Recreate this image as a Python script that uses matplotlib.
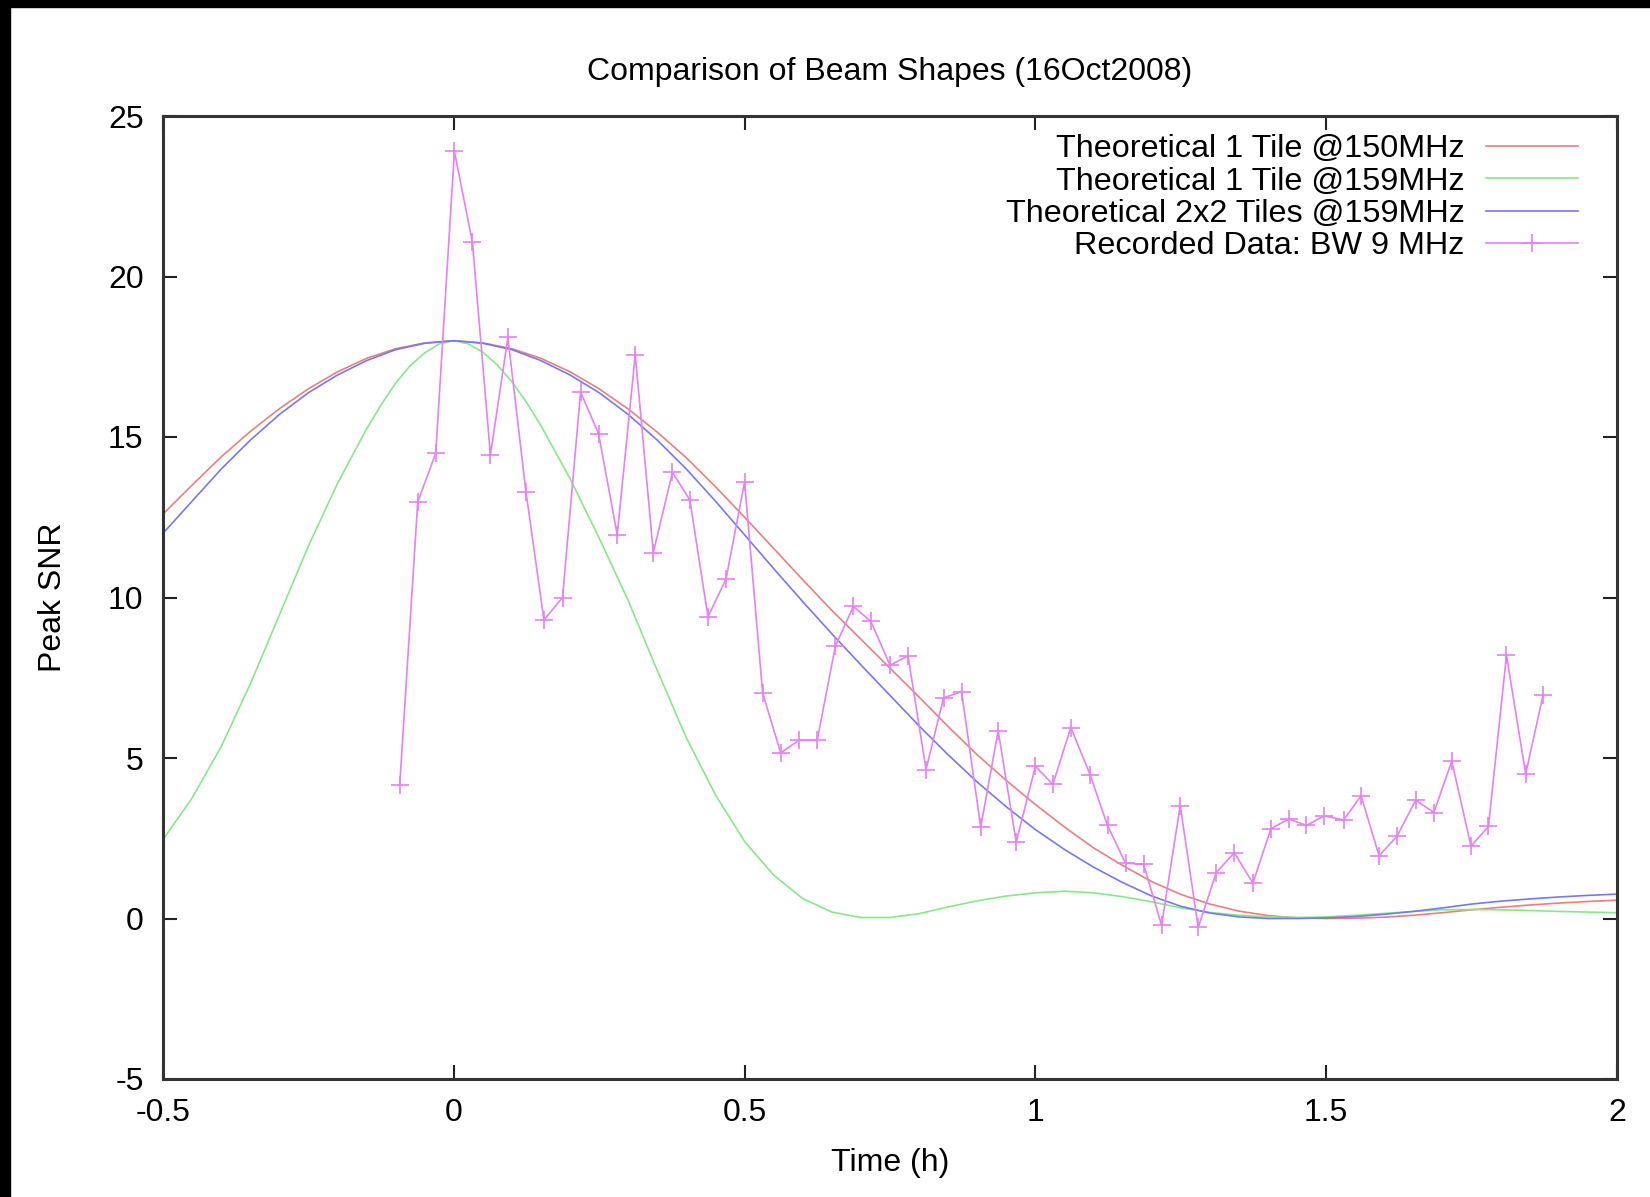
import matplotlib
matplotlib.use('Agg')
import matplotlib.pyplot as plt
from matplotlib.patches import Rectangle
import numpy as np

plt.rcParams['font.family'] = ['Liberation Sans', 'DejaVu Sans']
plt.rcParams['axes.unicode_minus'] = False

# %% values
theory_t = np.round(np.arange(-0.5, 2.001, 0.05), 2)

tile_150 = [12.6, 13.5, 14.38, 15.17, 15.88, 16.5, 17.03, 17.45, 17.75, 17.93, 18.0,
            17.93, 17.75, 17.45, 17.03, 16.5, 15.87, 15.15, 14.35, 13.45, 12.5,
            11.53, 10.55, 9.6, 8.7, 7.8, 6.9, 5.98, 5.1, 4.3, 3.55,
            2.85, 2.2, 1.65, 1.15, 0.75, 0.45, 0.23, 0.09, 0.02, 0.0,
            0.01, 0.04, 0.1, 0.18, 0.27, 0.35, 0.42, 0.48, 0.53, 0.57]

tiles2x2_159 = [12.0, 13.0, 14.0, 14.9, 15.7, 16.38, 16.93, 17.38, 17.72, 17.92, 18.0,
                17.92, 17.72, 17.38, 16.93, 16.38, 15.7, 14.9, 14.0, 13.0, 11.95,
                10.9, 9.87, 8.87, 7.9, 6.95, 6.0, 5.1, 4.25, 3.48, 2.77,
                2.15, 1.6, 1.12, 0.7, 0.38, 0.17, 0.05, 0.0, 0.0, 0.02,
                0.06, 0.13, 0.22, 0.33, 0.45, 0.54, 0.61, 0.67, 0.72, 0.76]

# the narrow single-tile beam, read a bit more densely around its peak
green_t = [-0.5, -0.45, -0.4, -0.35, -0.3, -0.25, -0.2, -0.15, -0.125, -0.1, -0.075,
           -0.05, -0.025, 0.0, 0.025, 0.05, 0.075, 0.1, 0.125, 0.15, 0.2, 0.25,
           0.3, 0.35, 0.4, 0.45, 0.5, 0.55, 0.6, 0.65, 0.7, 0.75, 0.8, 0.85,
           0.9, 0.95, 1.0, 1.05, 1.1, 1.15, 1.2, 1.25, 1.3, 1.35, 1.4, 1.45,
           1.5, 1.55, 1.6, 1.65, 1.7, 1.75, 1.8, 1.85, 1.9, 1.95, 2.0]
tile_159 = [2.46, 3.75, 5.35, 7.3, 9.45, 11.6, 13.55, 15.25, 16.0, 16.68, 17.22,
            17.62, 17.9, 18.0, 17.9, 17.64, 17.24, 16.72, 16.08, 15.35, 13.7, 11.85,
            9.9, 7.72, 5.62, 3.85, 2.4, 1.35, 0.62, 0.2, 0.03, 0.03, 0.15, 0.36,
            0.55, 0.7, 0.8, 0.85, 0.8, 0.68, 0.52, 0.33, 0.19, 0.1, 0.05, 0.03,
            0.05, 0.1, 0.16, 0.22, 0.27, 0.28, 0.27, 0.25, 0.22, 0.2, 0.18]

rec_t = [-0.093, -0.062, -0.031, 0.001, 0.032, 0.063, 0.093, 0.124, 0.155, 0.187,
         0.218, 0.249, 0.281, 0.312, 0.343, 0.376, 0.406, 0.437, 0.468, 0.5,
         0.531, 0.562, 0.594, 0.625, 0.656, 0.687, 0.717, 0.75, 0.781, 0.812,
         0.842, 0.873, 0.906, 0.936, 0.967, 1.0, 1.03, 1.061, 1.094, 1.124,
         1.155, 1.186, 1.217, 1.249, 1.28, 1.311, 1.342, 1.374, 1.405, 1.436,
         1.466, 1.497, 1.53, 1.56, 1.591, 1.622, 1.654, 1.685, 1.716, 1.749,
         1.779, 1.81, 1.843, 1.873]
rec_snr = [4.15, 12.97, 14.5, 23.9, 21.07, 14.44, 18.1, 13.3, 9.3, 10.0,
           16.4, 15.1, 11.95, 17.56, 11.4, 13.9, 13.03, 9.4, 10.57, 13.6,
           7.03, 5.16, 5.56, 5.56, 8.48, 9.72, 9.26, 7.89, 8.18, 4.64,
           6.87, 7.07, 2.84, 5.85, 2.38, 4.74, 4.18, 5.95, 4.48, 2.9,
           1.72, 1.69, -0.21, 3.52, -0.28, 1.43, 2.05, 1.1, 2.8, 3.1,
           2.9, 3.2, 3.07, 3.82, 1.95, 2.57, 3.69, 3.3, 4.9, 2.25,
           2.87, 8.2, 4.5, 6.97]

xticks = [-0.5, 0, 0.5, 1, 1.5, 2]
xtick_labels = ['-0.5', '0', '0.5', '1', '1.5', '2']
yticks = [-5, 0, 5, 10, 15, 20, 25]
ytick_labels = ['-5', '0', '5', '10', '15', '20', '25']

# %%
fig = plt.figure(figsize=(16.5, 11.97), dpi=100)
ax = fig.add_axes([163 / 1650, 1 - 1079 / 1197, 1454 / 1650, 963 / 1197])

ax.plot(theory_t, tile_150, color='#e88080', lw=1.2, label='Theoretical 1 Tile @150MHz')
ax.plot(green_t, tile_159, color='#88e888', lw=1.2, label='Theoretical 1 Tile @159MHz')
ax.plot(theory_t, tiles2x2_159, color='#7878ee', lw=1.2, label='Theoretical 2x2 Tiles @159MHz')
ax.plot(rec_t, rec_snr, color='#e680f5', lw=1.2, marker='+', ms=13, mew=1.2,
        label='Recorded Data: BW 9 MHz')

ax.set_xlim(-0.5, 2)
ax.set_ylim(-5, 25)
ax.set_xticks(xticks)
ax.set_xticklabels(xtick_labels)
ax.set_yticks(yticks)
ax.set_yticklabels(ytick_labels)
ax.tick_params(direction='in', top=True, right=True, length=10, width=1.5,
               labelsize=23, pad=14, color='#222222')
for s in ax.spines.values():
    s.set_linewidth(2.2)
    s.set_color('#333333')

ax.set_title('Comparison of Beam Shapes (16Oct2008)', fontsize=23, pad=26)
ax.set_xlabel('Time (h)', fontsize=23, labelpad=14)
ax.set_ylabel('Peak SNR', fontsize=23, labelpad=29)

ax.legend(loc='upper right', bbox_to_anchor=(0.973, 0.981), frameon=False,
          markerfirst=False, fontsize=23.3, labelspacing=0.07, handlelength=2.85,
          handletextpad=0.65, borderpad=0, borderaxespad=0)

# black strips along the top and left edges of the screenshot
fig.patches.append(Rectangle((0, 1 - 7 / 1197), 1, 7 / 1197, transform=fig.transFigure,
                             color='black', zorder=10))
fig.patches.append(Rectangle((0, 0), 10 / 1650, 1, transform=fig.transFigure,
                             color='black', zorder=10))

fig.savefig('out.png', dpi=100)
